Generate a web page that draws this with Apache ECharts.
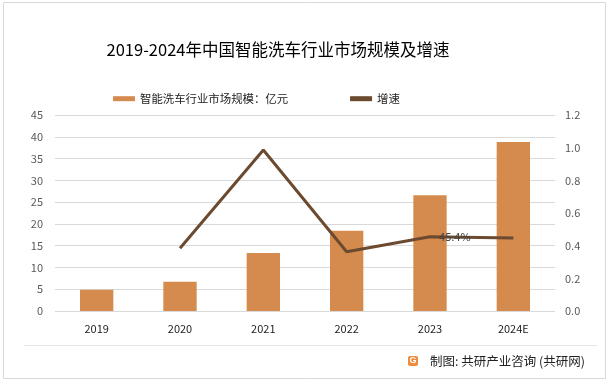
<!DOCTYPE html>
<html><head><meta charset="utf-8">
<script src="https://cdn.jsdelivr.net/npm/echarts@6/dist/echarts.min.js"></script>
<style>html,body{margin:0;padding:0;background:#fff}#c{width:615px;height:386px}</style>
</head><body><div id="c"></div>
<script>
const categories = ['2019','2020','2021','2022','2023','2024E'];
const marketSize = [4.9, 6.7, 13.3, 18.4, 26.6, 38.8];
const growth = [null, 0.384, 0.986, 0.363, 0.454, 0.447];
const leftTicks = {min:0, max:45, interval:5};
const rightTicks = {min:0, max:1.2, interval:0.2};
const titleText = '2019-2024年中国智能洗车行业市场规模及增速';
const seriesNames = ['智能洗车行业市场规模：亿元', '增速'];
const sourceText = '制图: 共研产业咨询 (共研网)';

const chart = echarts.init(document.getElementById('c'));
const font = '"Noto Sans CJK SC", "Noto Sans", sans-serif';
chart.setOption({
  animation:false,
  textStyle:{fontFamily:font},
  title:{text:titleText, left:273, top:36, textAlign:'center',
    textStyle:{fontSize:16.5, fontWeight:'normal', color:'#000', fontFamily:font}},
  legend:{left:108, top:88, itemGap:62, itemWidth:22, itemHeight:5,
    textStyle:{fontSize:11.4, color:'#222', fontFamily:font},
    data:[{name:seriesNames[0], icon:'rect'},{name:seriesNames[1], icon:'rect', itemStyle:{color:'#6B4A30'}}]},
  grid:{left:55, right:60, top:115, bottom:75},
  xAxis:{type:'category', data:categories,
    axisLine:{show:false}, axisTick:{show:false},
    axisLabel:{color:'#222', fontSize:11, margin:12, fontFamily:font}},
  yAxis:[
    {type:'value', min:leftTicks.min, max:leftTicks.max, interval:leftTicks.interval,
     axisLine:{show:false}, axisTick:{show:false},
     axisLabel:{color:'#595959', fontSize:11, margin:12, fontFamily:font},
     splitLine:{lineStyle:{color:'#d9d9d9', width:1}}},
    {type:'value', min:rightTicks.min, max:rightTicks.max, interval:rightTicks.interval,
     axisLine:{show:false}, axisTick:{show:false}, splitLine:{show:false},
     axisLabel:{color:'#595959', fontSize:11, margin:10, fontFamily:font,
       formatter:v=>v.toFixed(1)}}
  ],
  series:[
    {name:seriesNames[0], type:'bar', data:marketSize, barWidth:'40%',
     itemStyle:{color:'#D48B4D'}},
    {name:seriesNames[1], type:'line', yAxisIndex:1, data:growth.map((v,i)=>{
        if(i===4) return {value:v, label:{show:true, position:'right', distance:9,
          formatter:p=>(p.value*100).toFixed(1)+'%', color:'#404040', fontSize:11}};
        return v;}),
     symbol:'circle', symbolSize:0.1, showSymbol:true, connectNulls:false,
     lineStyle:{color:'#6B4A30', width:3}, itemStyle:{color:'#6B4A30'}}
  ],
  graphic:[
    {type:'rect', shape:{x:3.5, y:2.5, width:602, height:376}, style:{fill:'none', stroke:'#d9d9d9', lineWidth:1}, silent:true},
    {type:'line', shape:{x1:24, y1:345.5, x2:597, y2:345.5}, style:{stroke:'#e6e6e6', lineWidth:1}, silent:true},
    {type:'rect', shape:{x:408, y:356, width:10, height:10, r:2}, style:{fill:'#F08A3C'}},
    {type:'text', style:{text:'G', x:413, y:361, fill:'#fff', fontSize:9, fontWeight:'bold', align:'center', verticalAlign:'middle'}},
    {type:'text', style:{text:sourceText, x:430, y:361, fill:'#222', fontSize:12.5, fontFamily:font, verticalAlign:'middle'}}
  ]
});
</script></body></html>
